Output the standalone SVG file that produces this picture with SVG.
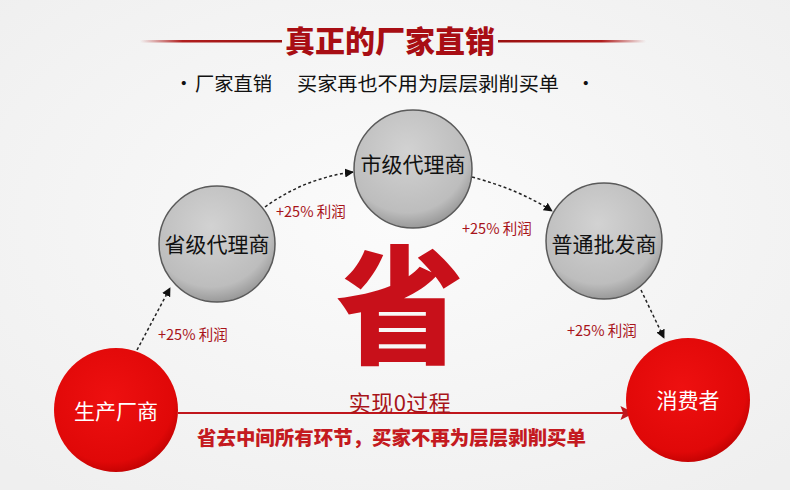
<svg xmlns="http://www.w3.org/2000/svg" width="790" height="490" viewBox="0 0 790 490">
<defs>
<style>
.cjk{font-family:"Noto Sans CJK SC","Noto Sans",sans-serif}
.sub{font-family:"Noto Sans CJK SC",sans-serif;font-size:19.5px;fill:#111}
.node{font-family:"Noto Sans CJK SC",sans-serif;font-size:21px;text-anchor:middle}
.gain{font-family:"Noto Sans CJK SC","Liberation Sans",sans-serif;font-size:14.5px;fill:#a8141a}
.dash{fill:none;stroke:#222;stroke-width:1.5;stroke-dasharray:3 2.5;marker-end:url(#ah)}
</style>
<radialGradient id="bg" cx="0.5" cy="0.45" r="0.7">
<stop offset="0" stop-color="#fbfbfb"/><stop offset="1" stop-color="#efefef"/>
</radialGradient>
<radialGradient id="gray" cx="0.45" cy="0.35" r="0.65">
<stop offset="0" stop-color="#d2d2d2"/><stop offset="0.8" stop-color="#bdbdbd"/><stop offset="1" stop-color="#9a9a9a"/>
</radialGradient>
<radialGradient id="red" cx="0.45" cy="0.4" r="0.65">
<stop offset="0" stop-color="#ee1010"/><stop offset="0.8" stop-color="#e00808"/><stop offset="1" stop-color="#b80000"/>
</radialGradient>
<linearGradient id="lineL" x1="0" x2="1">
<stop offset="0" stop-color="#b01e1e" stop-opacity="0"/><stop offset="0.3" stop-color="#b01e1e"/><stop offset="1" stop-color="#9a1010"/>
</linearGradient>
<linearGradient id="lineR" x1="0" x2="1">
<stop offset="0" stop-color="#9a1010"/><stop offset="0.7" stop-color="#b01e1e"/><stop offset="1" stop-color="#b01e1e" stop-opacity="0"/>
</linearGradient>
<marker id="ah" viewBox="0 0 10 10" refX="9" refY="5" markerWidth="9" markerHeight="9" markerUnits="userSpaceOnUse" orient="auto">
<path d="M0,0 L10,5 L0,10 z" fill="#111"/>
</marker>
<marker id="rah" viewBox="0 0 10 10" refX="9" refY="5" markerWidth="16" markerHeight="14" markerUnits="userSpaceOnUse" orient="auto">
<path d="M0,0 L10,5 L0,10 L2,5 z" fill="#c0161c"/>
</marker>
</defs>
<rect width="790" height="490" fill="url(#bg)"/>

<g id="title">
<rect x="140" y="40" width="142" height="2.5" fill="url(#lineL)"/>
<rect x="498" y="40" width="148" height="2.5" fill="url(#lineR)"/>
<text x="390" y="52" class="cjk" font-size="30" font-weight="900" fill="#a80e14" text-anchor="middle">真正的厂家直销</text>
<text class="sub" x="174" y="91">·</text>
<text class="sub" x="195" y="91" textLength="77" lengthAdjust="spacingAndGlyphs">厂家直销</text>
<text class="sub" x="297" y="91" textLength="262" lengthAdjust="spacingAndGlyphs">买家再也不用为层层剥削买单</text>
<text class="sub" x="576" y="91">·</text>
</g>

<g id="connectors">
<path class="dash" d="M137,350 L170,288"/>
<path class="dash" d="M265,207 Q305,178 353,172"/>
<path class="dash" d="M472,177 Q520,190 552,211"/>
<path class="dash" d="M641,290 L664,338"/>
<line x1="178" y1="413" x2="633" y2="413" stroke="#c0161c" stroke-width="2" marker-end="url(#rah)"/>
</g>

<g id="labels">
<text class="gain" x="158" y="340">+25% 利润</text>
<text class="gain" x="276" y="217">+25% 利润</text>
<text class="gain" x="462" y="234">+25% 利润</text>
<text class="gain" x="567" y="336">+25% 利润</text>
</g>

<g id="sheng">
<text x="400" y="354" class="cjk" font-size="128" font-weight="900" fill="#c8101a" text-anchor="middle">省</text>
<text x="400" y="411" class="cjk" font-size="22" fill="#a8141a" text-anchor="middle" letter-spacing="0.5">实现0过程</text>
<text x="197" y="445" class="cjk" font-size="19" font-weight="900" fill="#c41a20" textLength="389" lengthAdjust="spacingAndGlyphs">省去中间所有环节，买家不再为层层剥削买单</text>
</g>

<g id="node-shengji">
<circle cx="217" cy="244" r="58" fill="url(#gray)" stroke="#5a5a5a" stroke-width="1.5"/>
<text class="node" x="217" y="252" fill="#111">省级代理商</text>
</g>
<g id="node-shiji">
<circle cx="413" cy="169" r="59" fill="url(#gray)" stroke="#5a5a5a" stroke-width="1.5"/>
<text class="node" x="413" y="172" fill="#111">市级代理商</text>
</g>
<g id="node-putong">
<circle cx="604" cy="241" r="58" fill="url(#gray)" stroke="#5a5a5a" stroke-width="1.5"/>
<text class="node" x="604" y="252" fill="#111">普通批发商</text>
</g>
<g id="node-shengchan">
<circle cx="116" cy="410" r="62" fill="url(#red)"/>
<text class="node" x="116" y="419" fill="#fff">生产厂商</text>
</g>
<g id="node-xiaofei">
<circle cx="688" cy="400" r="62" fill="url(#red)"/>
<text class="node" x="688" y="408" fill="#fff">消费者</text>
</g>
</svg>
